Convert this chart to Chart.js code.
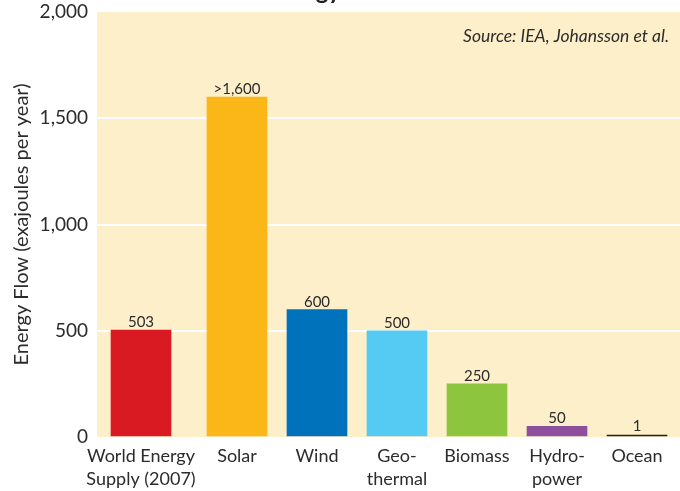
<!DOCTYPE html>
<html>
<head>
<meta charset="utf-8">
<script src="https://cdn.jsdelivr.net/npm/chart.js@4"></script>
<style>
html,body{margin:0;padding:0;background:#fff;}
#wrap{width:680px;height:491px;}
</style>
</head>
<body>
<div id="wrap"><canvas id="c" width="680" height="491"></canvas></div>
<script>
const categories = [["World Energy","Supply (2007)"], "Solar", "Wind", ["Geo-","thermal"], "Biomass", ["Hydro-","power"], "Ocean"];
const values = [503, 1600, 600, 500, 250, 50, 1];
const valueLabels = ["503", ">1,600", "600", "500", "250", "50", "1"];
const barColors = ["#da1a22", "#fbb617", "#0071bb", "#55cbf4", "#8dc53e", "#8e4f9e", "#231f20"];
const yTicks = [0, 500, 1000, 1500, 2000];
const sourceText = "Source: IEA, Johansson et al.";
const titleText = "Renewable Energy";

// first bar (world supply) is set apart from the renewables by an extra gap
const groupGap = 0.2;
const xPos = categories.map((c, i) => i + (i > 0 ? groupGap : 0));
const points = values.map((v, i) => ({x: xPos[i], y: v}));

const textColor = "#2b2b2b";
const fontFam = "Lato, 'Open Sans', sans-serif";

const bgPlugin = {
  id: 'bg',
  beforeDraw(chart) {
    const {ctx, chartArea: a} = chart;
    ctx.save();
    ctx.fillStyle = "#fdefc9";
    ctx.fillRect(a.left, a.top, a.right - a.left, a.bottom - a.top);
    ctx.restore();
  },
  afterDraw(chart) {
    const {ctx, chartArea: a} = chart;
    const meta = chart.getDatasetMeta(0);
    ctx.save();
    ctx.fillStyle = textColor;
    ctx.font = "15px " + fontFam;
    ctx.textAlign = "center";
    ctx.textBaseline = "alphabetic";
    meta.data.forEach((bar, i) => {
      const top = Math.min(bar.y, bar.base - 2);
      ctx.fillText(valueLabels[i], bar.x, top - 3);
    });
    ctx.font = "italic 17.5px " + fontFam;
    ctx.textAlign = "right";
    ctx.fillText(sourceText, a.right - 11, a.top + 30);
    ctx.font = "bold 24px " + fontFam;
    ctx.fillStyle = "#222";
    ctx.fillText(titleText, 341, -1);
    ctx.restore();
  }
};

new Chart(document.getElementById('c'), {
  type: 'bar',
  data: {
    datasets: [{
      data: points,
      backgroundColor: barColors,
      borderWidth: 0,
      barThickness: 60,
      minBarLength: 2
    }]
  },
  options: {
    responsive: false,
    animation: false,
    devicePixelRatio: 1,
    layout: {padding: {top: 12, right: 0, left: 0, bottom: 0}},
    plugins: {legend: {display: false}, tooltip: {enabled: false}, title: {display: false}},
    scales: {
      x: {
        type: 'linear',
        offset: false,
        min: -0.55,
        max: 6.7375,
        grid: {display: false, drawTicks: false, offset: false},
        border: {display: false},
        afterBuildTicks(scale) { scale.ticks = xPos.map(v => ({value: v})); },
        afterFit(scale) { scale.height = 54; scale.paddingLeft = 0; scale.paddingRight = 0; },
        ticks: {
          autoSkip: false,
          maxRotation: 0,
          padding: 8,
          color: textColor,
          font: {family: fontFam, size: 18, lineHeight: 1.25},
          callback(v) { const i = xPos.indexOf(v); return i >= 0 ? categories[i] : ''; }
        }
      },
      y: {
        min: 0,
        max: 2000,
        afterBuildTicks(scale) { scale.ticks = yTicks.map(v => ({value: v})); },
        afterFit(scale) { scale.width = 97; scale.paddingTop = 0; scale.paddingBottom = 0; },
        grid: {
          drawTicks: false,
          lineWidth: 2,
          color: ctx => (ctx.tick && ctx.tick.value > 0 && ctx.tick.value < 2000) ? "#ffffff" : "rgba(0,0,0,0)"
        },
        border: {display: false},
        ticks: {
          padding: 9,
          color: textColor,
          font: {family: fontFam, size: 19},
          callback: v => v.toLocaleString('en-US')
        },
        title: {
          display: true,
          text: "Energy Flow (exajoules per year)",
          color: textColor,
          font: {family: fontFam, size: 20},
          padding: {top: 10, bottom: 0}
        }
      }
    }
  },
  plugins: [bgPlugin]
});
</script>
</body>
</html>
